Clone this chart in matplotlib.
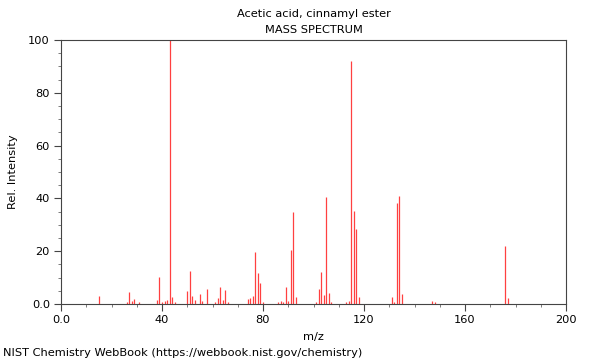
import matplotlib
matplotlib.use("Agg")
import matplotlib.pyplot as plt
from matplotlib.ticker import MultipleLocator

title = "Acetic acid, cinnamyl ester"
subtitle = "MASS SPECTRUM"
footer = "NIST Chemistry WebBook (https://webbook.nist.gov/chemistry)"

mz = [15, 26, 27, 28, 29, 31, 38, 39, 40, 41, 42, 43, 44, 45,
      50, 51, 52, 53, 55, 56, 58, 61, 62, 63, 64, 65, 66,
      74, 75, 76, 77, 78, 79, 80, 86, 87, 88, 89, 90, 91, 92, 93,
      101, 102, 103, 104, 105, 106, 107, 113, 114, 115, 116, 117, 118,
      131, 132, 133, 134, 135, 147, 148, 176, 177]
intensity = [2.9, 0.8, 4.5, 1.2, 1.9, 0.9, 1.4, 10.1, 0.8, 1.1, 1.4, 100, 2.5, 0.8,
             4.9, 12.6, 2.9, 1.4, 3.8, 1.0, 5.8, 0.7, 2.1, 6.3, 1.4, 5.2, 0.7,
             1.9, 2.3, 3.0, 19.8, 11.6, 8.1, 0.6, 0.6, 1.1, 0.7, 6.4, 1.2, 20.5, 34.8, 2.6,
             0.8, 5.6, 12.1, 3.4, 40.4, 4.0, 0.6, 0.8, 1.1, 92.0, 35.1, 28.4, 2.6,
             2.6, 0.8, 38.1, 40.9, 3.8, 1.1, 0.7, 22.1, 2.4]

xticks = [0, 40, 80, 120, 160, 200]
xticklabels = ["0.0", "40", "80", "120", "160", "200"]
yticks = [0, 20, 40, 60, 80, 100]
yticklabels = ["0.0", "20", "40", "60", "80", "100"]

fig = plt.figure(figsize=(6, 3.6), dpi=100)
ax = fig.add_axes([61/600, 1 - 304/360, 505/600, 264/360])

ax.vlines(mz, 0, intensity, colors="#ff4040", linewidth=0.9)

ax.set_xlim(0, 200)
ax.set_ylim(0, 100)
ax.set_xticks(xticks)
ax.set_xticklabels(xticklabels)
ax.set_yticks(yticks)
ax.set_yticklabels(yticklabels)
ax.xaxis.set_minor_locator(MultipleLocator(10))
ax.yaxis.set_minor_locator(MultipleLocator(5))

for s in ax.spines.values():
    s.set_color("#444444")
    s.set_linewidth(0.8)
ax.tick_params(which="major", length=5, width=0.8, color="#444444", labelsize=8.2, pad=3)
ax.tick_params(which="minor", length=2.5, width=0.6, color="#666666")
ax.tick_params(axis="both", which="both", top=False, right=False)

ax.set_xlabel("m/z", fontsize=8.2, labelpad=5)
ax.set_ylabel("Rel. Intensity", fontsize=8.2, labelpad=7.5)

cx = (61 + 566) / 2 / 600
fig.text(cx, 1 - 14/360, title, ha="center", va="center", fontsize=8.2)
fig.text(cx, 1 - 30/360, subtitle, ha="center", va="center", fontsize=8.2)
fig.text(3/600, 1 - 353/360, footer, ha="left", va="center", fontsize=8.2)

fig.savefig("out.png", dpi=100)
